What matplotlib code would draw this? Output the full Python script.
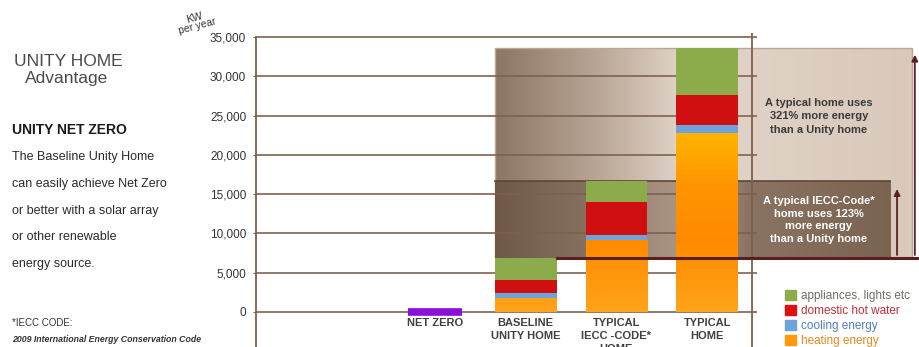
import numpy as np
import matplotlib
matplotlib.use("Agg")
import matplotlib.pyplot as plt
from matplotlib.colors import LinearSegmentedColormap
from matplotlib.patches import Patch, Rectangle

plt.rcParams['font.family'] = ['Liberation Sans', 'DejaVu Sans']

# data (kW per year)
categories = ["NET ZERO", "BASELINE\nUNITY HOME", "TYPICAL\nIECC -CODE*\nHOME", "TYPICAL\nHOME"]
heating = [0, 1800, 9200, 22800]
cooling = [0, 600, 600, 1000]
hot_water = [0, 1700, 4200, 3800]
appliances = [0, 2800, 2700, 6000]
yticks = [0, 5000, 10000, 15000, 20000, 25000, 30000, 35000]
legend_labels = ["appliances, lights etc", "domestic hot water", "cooling energy", "heating energy"]

W, H = 919, 347
fig = plt.figure(figsize=(W / 100, H / 100), dpi=100)
fig.patch.set_facecolor("white")

def fx(px):
    return px / W

def fy(py):
    return 1 - py / H

ax = fig.add_axes([fx(256), 0, fx(919) - fx(256), 1])
ax.set_facecolor("none")
xlim = (-1.974, 5.336)
ylim = (-4455, 39709)

brown = "#7d604c"
width = 0.68
x = np.arange(len(categories))

heat = np.array(heating)
cool = np.array(cooling)
hot = np.array(hot_water)
appl = np.array(appliances)
totals = heat + cool + hot + appl

# background comparison bands
base_total = totals[1]
iecc_total = totals[2]
typ_total = totals[3]
band_left = x[1] - width / 2

light_cmap = LinearSegmentedColormap.from_list(
    "light", [(0, "#8c7564"), (0.26, "#bca999"), (0.45, "#e2d5ca"), (0.62, "#dfd1c5"), (1, "#d9c9bb")])
grad = np.linspace(0, 1, 256).reshape(1, -1)
light_right = 5.26
ax.imshow(grad, cmap=light_cmap, aspect="auto", extent=[band_left, light_right, base_total, typ_total], zorder=0.5)
ax.add_patch(Rectangle((band_left, base_total), light_right - band_left, typ_total - base_total,
                       fill=False, edgecolor="#b9a797", lw=1, zorder=0.6))

dark_cmap = LinearSegmentedColormap.from_list(
    "dark", [(0, "#6f5847"), (0.22, "#85705f"), (0.37, "#a08b7a"), (0.48, "#ab9685"), (0.65, "#8a7362"), (1, "#7a6351")])
dark_right = 5.017
ax.imshow(grad, cmap=dark_cmap, aspect="auto", extent=[band_left, dark_right, base_total, iecc_total], zorder=0.7)
ax.plot([band_left, dark_right], [iecc_total, iecc_total], color="#5e4636", lw=1.2, zorder=0.8)

# grid lines
ax.hlines(yticks, xlim[0], 3.55, color=brown, lw=1.3, alpha=0.9, zorder=1)
ax.vlines(3.495, ylim[0], 35500, color=brown, lw=1.3, zorder=1)

# stacked bars
c_heat, c_cool, c_hot, c_appl = "#ff9a0a", "#6fa3dc", "#d01010", "#8cab4a"
heat_bars = ax.bar(x, heat, width, color=c_heat, zorder=2)
ax.bar(x, cool, width, bottom=heat, color=c_cool, zorder=2)
ax.bar(x, hot, width, bottom=heat + cool, color=c_hot, zorder=2)
ax.bar(x, appl, width, bottom=heat + cool + hot, color=c_appl, zorder=2)

# orange gradient inside heating bars
heat_cmap = LinearSegmentedColormap.from_list(
    "heat", [(0, "#ffa41a"), (0.4, "#ff8a00"), (0.7, "#ff9500"), (1, "#ffb400")])
vgrad = np.linspace(0, 1, 256).reshape(-1, 1)
for b in heat_bars:
    if b.get_height() <= 0:
        continue
    im = ax.imshow(vgrad, cmap=heat_cmap, aspect="auto", origin="lower",
                   extent=[b.get_x(), b.get_x() + b.get_width(), 0, max(heat)], zorder=2.1)
    im.set_clip_path(b)

# net zero bar (value 0 drawn as a thick line)
ax.bar(x[0], totals[0], width * 0.88, color="#8a10d8", edgecolor="#8a10d8", lw=5.5, zorder=2)

# baseline line and arrows
ax.plot([x[1] + width / 2, xlim[1]], [base_total, base_total], color="#5c1f1f", lw=2.2, zorder=3)
ax.annotate("", xy=(5.094, iecc_total - 700), xytext=(5.094, base_total),
            arrowprops=dict(arrowstyle="-|>", color="#5c1f1f", lw=1.3, mutation_scale=9), zorder=3)
ax.annotate("", xy=(5.29, typ_total - 500), xytext=(5.29, base_total),
            arrowprops=dict(arrowstyle="-|>", color="#5c1f1f", lw=1.3, mutation_scale=9), zorder=3)

# band texts
ax.text(4.23, 24900, "A typical home uses\n321% more energy\nthan a Unity home", ha="center", va="center",
        fontsize=8, fontweight="bold", color="#3a3a3a", linespacing=1.4, zorder=4)
ax.text(4.23, 11700, "A typical IECC-Code*\nhome uses 123%\nmore energy\nthan a Unity home", ha="center",
        va="center", fontsize=8, fontweight="bold", color="white", linespacing=1.3, zorder=4)

# category labels
for xi, lab in zip(x, categories):
    ax.text(xi, -750, lab, ha="center", va="top", fontsize=8, fontweight="bold", color="#404040",
            linespacing=1.4)

ax.set_xlim(*xlim)
ax.set_ylim(*ylim)
ax.set_yticks(yticks)
ax.set_yticklabels([f"{v:,}" for v in yticks], fontsize=8.5, color="#333333")
ax.tick_params(axis="y", length=2, color=brown, pad=5)
ax.set_xticks([])
for s in ["top", "right", "bottom"]:
    ax.spines[s].set_visible(False)
ax.spines["left"].set_color(brown)
ax.spines["left"].set_linewidth(1.3)
ax.spines["left"].set_bounds(ylim[0], 35000)

# legend
handles = [Patch(color=c) for c in [c_appl, "#dd1111", c_cool, c_heat]]
leg = fig.legend(handles, legend_labels, loc="upper left", bbox_to_anchor=(fx(779), fy(284)),
                 frameon=False, fontsize=8.5, handlelength=0.9, handleheight=0.9, handletextpad=0.5,
                 labelspacing=0.25, borderpad=0)
for t, c in zip(leg.get_texts(), ["#707060", "#c0303a", "#4f7fc0", "#e08a20"]):
    t.set_color(c)

# left side text
fig.text(fx(14), fy(62), "UNITY HOME", fontsize=12.5, color="#4a4a4a", va="center")
fig.text(fx(25), fy(78), "Advantage", fontsize=12.5, color="#4a4a4a", va="center")
fig.text(fx(12), fy(130), "UNITY NET ZERO", fontsize=10, fontweight="bold", color="#1a1a1a", va="center")
body = ["The Baseline Unity Home", "can easily achieve Net Zero", "or better with a solar array",
        "or other renewable", "energy source."]
for i, line in enumerate(body):
    fig.text(fx(12), fy(157 + 26.8 * i), line, fontsize=9, color="#2a2a2a", va="center")
fig.text(fx(12), fy(323), "*IECC CODE:", fontsize=7, color="#333333", va="center")
fig.text(fx(12), fy(340), "2009 International Energy Conservation Code", fontsize=6.3, color="#333333",
         va="center", fontweight="bold", fontstyle="italic")
fig.text(fx(196), fy(22), "KW\nper year", fontsize=7.5, color="#333333", ha="center", va="center",
         rotation=15, linespacing=0.9)

fig.savefig("out.png", dpi=100)
